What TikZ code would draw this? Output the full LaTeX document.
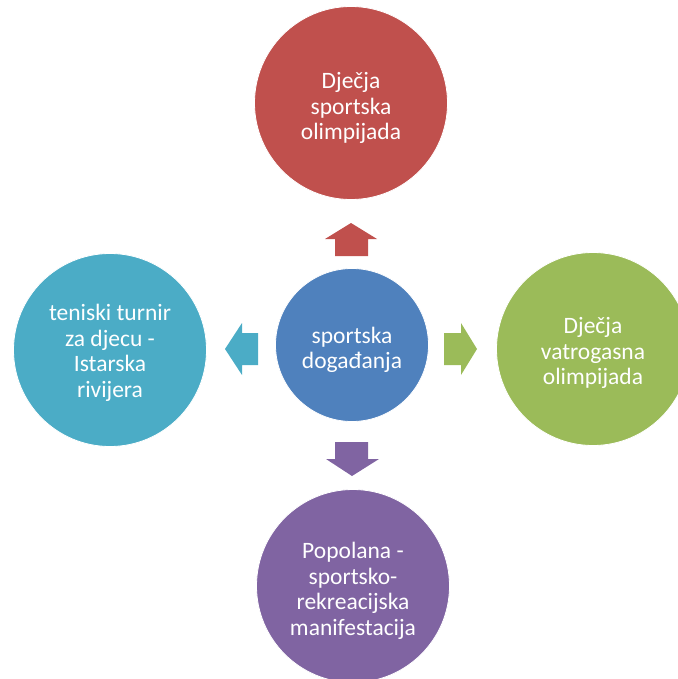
\documentclass[tikz,border=0pt]{standalone}
\usepackage{fontspec}
\setmainfont{Carlito}
\definecolor{cred}{HTML}{C0504D}
\definecolor{cblue}{HTML}{4F81BD}
\definecolor{cgreen}{HTML}{9BBB59}
\definecolor{cpurple}{HTML}{8064A2}
\definecolor{caqua}{HTML}{4BACC6}
\tikzset{
  bubble/.style={circle, draw=white, line width=0.8pt, inner sep=0pt},
  big/.style={bubble, minimum size=193pt},
  small/.style={bubble, minimum size=153pt},
  txt/.style={text=white, align=center, inner sep=0pt, font=\fontsize{23.5}{25.5}\selectfont}
}
\begin{document}
\begin{tikzpicture}[x=1pt,y=-1pt]
\useasboundingbox (0,0) rectangle (677,679);
\node[small, fill=cblue] (c) at (352,345) {};
\node[big, fill=cred] (t) at (351,103) {};
\node[big, fill=cgreen] (r) at (593,349) {};
\node[big, fill=caqua] (l) at (110,350) {};
\node[big, fill=cpurple] (b) at (353,586) {};
\node[txt] (ct) at ([yshift=-5pt]c.center) {sportska\\događanja};
\node[txt] (tt) at ([yshift=-5pt]t.center) {Dječja\\sportska\\olimpijada};
\node[txt] (rt) at ([yshift=-4pt]r.center) {Dječja\\vatrogasna\\olimpijada};
\node[txt] (lt) at ([yshift=-3pt]l.center) {teniski turnir\\za djecu -\\Istarska\\rivijera};
\node[txt] (bt) at ([yshift=-5pt]b.center) {Popolana -\\sportsko-\\rekreacijska\\manifestacija};
% arrows
\fill[cred] (351,223) -- (377,239) -- (368,239) -- (368,256) -- (335,256) -- (335,239) -- (325,239) -- cycle;
\fill[cpurple] (352,476) -- (379,459) -- (368,459) -- (368,442) -- (335,442) -- (335,459) -- (326,459) -- cycle;
\fill[caqua] (225,349) -- (242,323) -- (242,333) -- (258,333) -- (258,365) -- (242,365) -- (242,375) -- cycle;
\fill[cgreen] (477,349) -- (461,323) -- (461,333) -- (444,333) -- (444,365) -- (461,365) -- (461,375) -- cycle;
\end{tikzpicture}
\end{document}
